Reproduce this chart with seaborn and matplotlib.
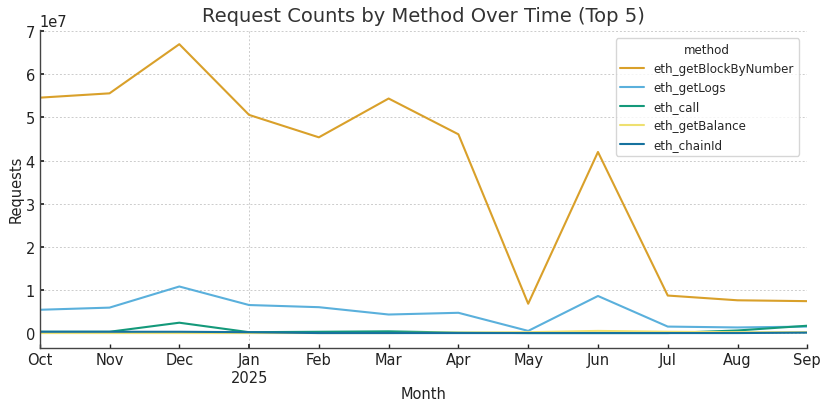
import pandas as pd
import numpy as np
import matplotlib
matplotlib.use("Agg")
import matplotlib.pyplot as plt
import seaborn as sns

# Monthly request counts (in units of 1e7), Oct 2024 - Sep 2025
months = ["Oct", "Nov", "Dec", "Jan\n2025", "Feb", "Mar", "Apr", "May", "Jun", "Jul", "Aug", "Sep"]
methods = ["eth_getBlockByNumber", "eth_getLogs", "eth_call", "eth_getBalance", "eth_chainId"]

get_block_by_number = [5.46, 5.56, 6.70, 5.06, 4.54, 5.44, 4.61, 0.68, 4.20, 0.87, 0.76, 0.74]
get_logs = [0.54, 0.59, 1.08, 0.65, 0.60, 0.43, 0.47, 0.05, 0.86, 0.15, 0.13, 0.15]
eth_call = [0.03, 0.03, 0.24, 0.02, 0.03, 0.04, 0.01, 0.00, 0.00, 0.00, 0.06, 0.17]
get_balance = [0.00, 0.00, 0.00, 0.00, 0.00, 0.00, 0.01, 0.02, 0.05, 0.03, 0.02, 0.02]
chain_id = [0.03, 0.03, 0.03, 0.02, 0.00, 0.00, 0.00, 0.00, 0.00, 0.00, 0.00, 0.01]

colors = ["#D9A02A", "#5AB0DC", "#14997A", "#EEE070", "#16729E"]

series = [get_block_by_number, get_logs, eth_call, get_balance, chain_id]
rows = []
for name, vals in zip(methods, series):
    for i, v in enumerate(vals):
        rows.append({"month": i, "method": name, "requests": v * 1e7})
df = pd.DataFrame(rows)

sns.set_theme(style="whitegrid")
plt.rcParams["font.family"] = ["DejaVu Sans"]
plt.rcParams["grid.linestyle"] = (0, (2, 2))
plt.rcParams["grid.color"] = "#cccccc"
plt.rcParams["grid.linewidth"] = 0.7

fig, ax = plt.subplots(figsize=(8.28, 4.10), dpi=100)
sns.lineplot(data=df, x="month", y="requests", hue="method", hue_order=methods,
             palette=colors, linewidth=1.5, ax=ax)

ax.set_xlim(0, len(months) - 1)
# Jan is the major tick (with gridline), others are minor like pandas' period axis
major = [3]
minor = [i for i in range(len(months)) if i not in major]
ax.set_xticks(major, labels=[months[i] for i in major])
ax.set_xticks(minor, labels=[months[i] for i in minor], minor=True)
ax.grid(axis="x", which="major", visible=True)
ax.grid(axis="x", which="minor", visible=False)
ax.tick_params(axis="x", which="both", labelsize=10.5, colors="#222222", length=3,
               direction="in", bottom=True)
ax.tick_params(axis="y", labelsize=10.5, colors="#222222", length=3, direction="in", left=True)
ax.yaxis.get_offset_text().set_fontsize(10.5)

for s in ["top", "right"]:
    ax.spines[s].set_visible(False)
for s in ["left", "bottom"]:
    ax.spines[s].set_color("#444444")
    ax.spines[s].set_linewidth(1.0)

ax.set_title("Request Counts by Method Over Time (Top 5)", fontsize=14, color="#333333")
ax.set_xlabel("Month", fontsize=10.5, color="#222222", labelpad=1)
ax.set_ylabel("Requests", fontsize=10.5, color="#222222", labelpad=1)

leg = ax.legend(title="method", loc="upper right", fontsize=8.6, title_fontsize=8.6,
                frameon=True, fancybox=True, borderaxespad=0.7)
leg.get_frame().set_edgecolor("#cccccc")

fig.subplots_adjust(left=0.048, right=0.975, top=0.925, bottom=0.15)
fig.savefig("out.png", dpi=100)
